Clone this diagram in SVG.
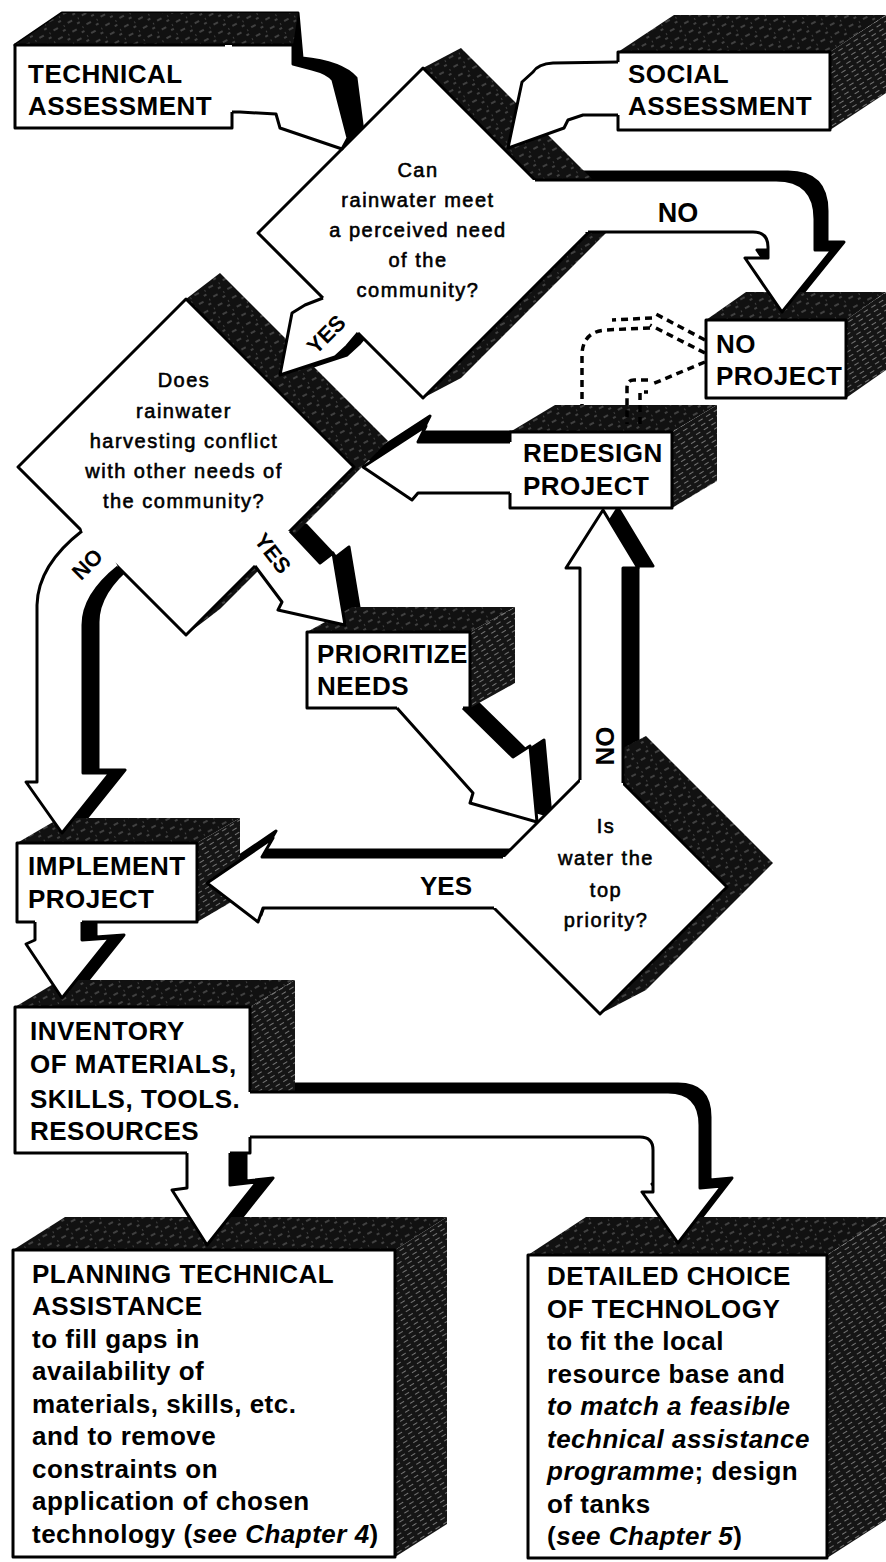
<svg xmlns="http://www.w3.org/2000/svg" xmlns:xlink="http://www.w3.org/1999/xlink" width="886" height="1562" viewBox="0 0 886 1562">
<style>
.face{fill:#fff;stroke:#000;stroke-width:3;stroke-linejoin:round}
.top{fill:url(#speck)}
.side{fill:url(#hatch)}
.dep{fill:#000;stroke:#000;stroke-width:3;stroke-linejoin:round}
.wf{fill:#fff;stroke:none}
.ln{fill:none;stroke:#000;stroke-width:3;stroke-linejoin:round}
.dash{fill:none;stroke:#000;stroke-width:3.5;stroke-dasharray:7 5}
.t{font-family:"Liberation Sans",Arial,sans-serif;font-size:26px;font-weight:bold;letter-spacing:0.5px;fill:#000}
.q{font-family:"Liberation Sans",Arial,sans-serif;font-size:20px;letter-spacing:1.5px;text-anchor:middle;fill:#000;stroke:#000;stroke-width:0.6}
.l{font-family:"Liberation Sans",Arial,sans-serif;font-weight:bold;text-anchor:middle;fill:#000}
.i{font-style:italic}
</style>
<defs>
<pattern id="speck" width="16" height="10" patternUnits="userSpaceOnUse" patternTransform="rotate(-28)">
<rect width="16" height="10" fill="#111"/>
<path d="M1,2h5M9,7h3M12,3h1" stroke="#fff" stroke-width="0.8" stroke-opacity="0.5"/>
</pattern>
<pattern id="hatch" width="9" height="5" patternUnits="userSpaceOnUse" patternTransform="rotate(-32)">
<rect width="9" height="5" fill="#151515"/>
<path d="M0,2.5h5" stroke="#fff" stroke-width="0.7" stroke-opacity="0.6"/>
</pattern>
<path id="a1" d="M225,45 L293,45 L293,64 L312,69 Q328,73 333,80 L348,138 L342,149 L280,128 L276,114 L240,112 L225,112 Z"/>
<path id="a2" d="M625,62 L553,63 Q538,64 533,72 L522,82 L508,148 L564,128 L568,120 L583,115 L625,115 Z"/>
<path id="a3" d="M520,180 L776,180 Q815,180 815,219 L815,250 L832,250 L782,312 L745,258 L768,258 L768,247 Q768,232 753,232 L560,232 Z"/>
<path id="a4" d="M330,290 L323,298 L305,305 L292,313 L280,375 L335,357 L347,346 L358,333 L365,325 Z"/>
<path id="a5" d="M250,560 L255,566 L282,602 L278,610 L345,625 L333,553 L320,563 L290,531 L280,530 Z"/>
<path id="a6" d="M80,520 L82,531 Q38,565 37,605 L37,782 L26,782 L62,833 L110,773 L83,773 L83,625 Q83,595 118,567 L110,550 Z"/>
<path id="a7" d="M397,700 L463,700 L463,708 L513,757 L530,746 L537,822 L470,803 L473,793 L397,708 Z"/>
<path id="a8" d="M580,800 L580,568 L566,568 L603,510 L638,568 L623,568 L623,800 Z"/>
<path id="a9" d="M520,857 L262,857 L273,838 L207,883 L258,922 L263,908 L520,908 Z"/>
<path id="a10" d="M35,915 L35,940 L26,944 L62,998 L110,938 L82,940 L82,915 Z"/>
<path id="a11" d="M187,1145 L187,1188 L172,1190 L207,1245 L257,1182 L230,1185 L230,1145 Z"/>
<path id="a12" d="M245,1092 L668,1092 Q700,1092 700,1125 L700,1188 L722,1186 L678,1243 L642,1192 L653,1192 L653,1150 Q653,1137 640,1137 L245,1137 Z"/>
<path id="a13" d="M517,442 L418,442 L426,426 L363,467 L412,500 L418,493 L517,493 Z"/>
</defs>
<rect width="886" height="1562" fill="#fff"/>

<g id="connector-depth">
<path class="dep" d="M15,45 L62,13 L298,13 L302,58 Q342,62 356,78 L364,140 L346,154 L342,149 L293,64 L293,45 Z"/>
<use xlink:href="#a3" class="dep" transform="translate(12,-8)"/>
<use xlink:href="#a4" class="dep" transform="translate(12,-2)"/>
<use xlink:href="#a5" class="dep" transform="translate(16,-6)"/>
<use xlink:href="#a6" class="dep" transform="translate(15,-3)"/>
<use xlink:href="#a7" class="dep" transform="translate(14,-6)"/>
<use xlink:href="#a8" class="dep" transform="translate(15,-2)"/>
<use xlink:href="#a9" class="dep" transform="translate(3,-7)"/>
<use xlink:href="#a10" class="dep" transform="translate(14,-3)"/>
<use xlink:href="#a11" class="dep" transform="translate(16,-4)"/>
<use xlink:href="#a12" class="dep" transform="translate(10,-8)"/>
<use xlink:href="#a13" class="dep" transform="translate(4,-10)"/>
</g>

<g id="technical-assessment">
<polygon class="top" points="15,45 62,13 298,13 293,45"/>
<rect class="face" x="15" y="45" width="217" height="83"/>
<text class="t" x="28" y="83">TECHNICAL</text>
<text class="t" x="28" y="115">ASSESSMENT</text>
</g>

<g id="social-assessment">
<polygon class="top" points="618,52 674,15 886,15 830,52"/>
<polygon class="side" points="830,52 886,15 886,93 830,130"/>
<rect class="face" x="618" y="52" width="212" height="78"/>
<text class="t" x="628" y="83">SOCIAL</text>
<text class="t" x="628" y="115">ASSESSMENT</text>
</g>

<g id="q-perceived-need">
<polygon class="top" points="258,233 423,68 461,48 626,213 461,378 423,398"/>
<polygon class="face" points="258,233 423,68 588,233 423,398"/>
<text class="q" x="418" y="177">Can</text>
<text class="q" x="418" y="207">rainwater meet</text>
<text class="q" x="418" y="237">a perceived need</text>
<text class="q" x="418" y="267">of the</text>
<text class="q" x="418" y="297">community?</text>
</g>

<g id="q-conflict">
<polygon class="top" points="18,467 186,299 220,273 388,441 220,609 186,635"/>
<polygon class="face" points="18,467 186,299 354,467 186,635"/>
<text class="q" x="184" y="387">Does</text>
<text class="q" x="184" y="418">rainwater</text>
<text class="q" x="184" y="448">harvesting conflict</text>
<text class="q" x="184" y="478">with other needs of</text>
<text class="q" x="184" y="508">the community?</text>
</g>

<g id="no-project">
<polygon class="top" points="706,320 746,292 886,292 846,320"/>
<polygon class="side" points="846,320 886,292 886,370 846,398"/>
<rect class="face" x="706" y="320" width="140" height="78"/>
<text class="t" x="716" y="353">NO</text>
<text class="t" x="716" y="385">PROJECT</text>
</g>

<g id="redesign-project">
<polygon class="top" points="510,432 555,405 717,405 672,432"/>
<polygon class="side" points="672,432 717,405 717,481 672,508"/>
<rect class="face" x="510" y="432" width="162" height="76"/>
<text class="t" x="523" y="462">REDESIGN</text>
<text class="t" x="523" y="495">PROJECT</text>
</g>

<g id="prioritize-needs">
<polygon class="top" points="307,632 352,607 515,607 470,632"/>
<polygon class="side" points="470,632 515,607 515,683 470,708"/>
<rect class="face" x="307" y="632" width="163" height="76"/>
<text class="t" x="317" y="663">PRIORITIZE</text>
<text class="t" x="317" y="695">NEEDS</text>
</g>

<g id="q-top-priority">
<polygon class="top" points="473,887 600,760 646,736 773,863 646,990 600,1014"/>
<polygon class="face" points="473,887 600,760 727,887 600,1014"/>
<text class="q" x="606" y="833">Is</text>
<text class="q" x="606" y="865">water the</text>
<text class="q" x="606" y="897">top</text>
<text class="q" x="606" y="927">priority?</text>
</g>

<g id="implement-project">
<polygon class="top" points="17,843 60,818 240,818 197,843"/>
<polygon class="side" points="197,843 240,818 240,897 197,922"/>
<rect class="face" x="17" y="843" width="180" height="79"/>
<text class="t" x="28" y="875">IMPLEMENT</text>
<text class="t" x="28" y="908">PROJECT</text>
</g>

<g id="inventory">
<polygon class="top" points="15,1007 60,980 295,980 250,1007"/>
<polygon class="side" points="250,1007 295,980 295,1092 250,1092"/>
<rect class="face" x="15" y="1007" width="235" height="146"/>
<text class="t" x="30" y="1040">INVENTORY</text>
<text class="t" x="30" y="1073">OF MATERIALS,</text>
<text class="t" x="30" y="1108">SKILLS, TOOLS.</text>
<text class="t" x="30" y="1140">RESOURCES</text>
</g>

<g id="planning-technical-assistance">
<polygon class="top" points="13,1250 65,1217 447,1217 395,1250"/>
<polygon class="side" points="395,1250 447,1217 447,1524 395,1557"/>
<rect class="face" x="13" y="1250" width="382" height="307"/>
<text class="t" x="32" y="1283">PLANNING TECHNICAL</text>
<text class="t" x="32" y="1315">ASSISTANCE</text>
<text class="t" x="32" y="1348">to fill gaps in</text>
<text class="t" x="32" y="1380">availability of</text>
<text class="t" x="32" y="1413">materials, skills, etc.</text>
<text class="t" x="32" y="1445">and to remove</text>
<text class="t" x="32" y="1478">constraints on</text>
<text class="t" x="32" y="1510">application of chosen</text>
<text class="t" x="32" y="1543">technology (<tspan class="i">see Chapter 4</tspan>)</text>
</g>

<g id="detailed-choice">
<polygon class="top" points="528,1255 586,1217 886,1217 827,1255"/>
<polygon class="side" points="827,1255 886,1217 886,1520 827,1558"/>
<rect class="face" x="528" y="1255" width="299" height="303"/>
<text class="t" x="547" y="1285">DETAILED CHOICE</text>
<text class="t" x="547" y="1318">OF TECHNOLOGY</text>
<text class="t" x="547" y="1350">to fit the local</text>
<text class="t" x="547" y="1383">resource base and</text>
<text class="t i" x="547" y="1415">to match a feasible</text>
<text class="t i" x="547" y="1448">technical assistance</text>
<text class="t" x="547" y="1480"><tspan class="i">programme</tspan>; design</text>
<text class="t" x="547" y="1513">of tanks</text>
<text class="t" x="547" y="1545">(<tspan class="i">see Chapter 5</tspan>)</text>
</g>

<g id="connectors">
<use xlink:href="#a1" class="wf"/>
<path class="ln" d="M232,45 L293,45 L293,64 L312,69 Q328,73 333,80 L348,138 L342,149 L280,128 L276,114 L240,112 L232,112"/>
<use xlink:href="#a2" class="wf"/>
<path class="ln" d="M618,62 L553,63 Q538,64 533,72 L522,82 L508,148 L564,128 L568,120 L583,115 L618,115"/>
<use xlink:href="#a3" class="wf"/>
<path class="ln" d="M535,180 L776,180 Q815,180 815,219 L815,250 L832,250 L782,312 L745,258 L768,258 L768,247 Q768,232 753,232 L588,232"/>
<text class="l" x="678" y="222" font-size="27">NO</text>
<use xlink:href="#a4" class="wf"/>
<path class="ln" d="M323,298 L305,305 L292,313 L280,375 L335,357 L347,346 L358,333"/>
<text class="l" font-size="22" transform="translate(326,334) rotate(-45)" y="8">YES</text>
<use xlink:href="#a5" class="wf"/>
<path class="ln" d="M255,566 L282,602 L278,610 L345,625 L333,553 L320,563 L290,531"/>
<text class="l" font-size="22" transform="translate(273,553) rotate(52)" y="8">YES</text>
<use xlink:href="#a6" class="wf"/>
<path class="ln" d="M82,531 Q38,565 37,605 L37,782 L26,782 L62,833 L110,773 L83,773 L83,625 Q83,595 118,567"/>
<text class="l" font-size="22" transform="translate(87,564) rotate(-45)" y="8">NO</text>
<use xlink:href="#a7" class="wf"/>
<path class="ln" d="M397,708 L473,793 L470,803 L537,822 L530,746 L513,757 L463,708"/>
<use xlink:href="#a8" class="wf"/>
<path class="ln" d="M580,780 L580,568 L566,568 L603,510 L638,568 L623,568 L623,783"/>
<text class="l" font-size="26" transform="translate(605,746) rotate(-90)" y="9">NO</text>
<use xlink:href="#a9" class="wf"/>
<path class="ln" d="M503,857 L262,857 L273,838 L207,883 L258,922 L263,908 L494,908"/>
<text class="l" x="446" y="895" font-size="26">YES</text>
<use xlink:href="#a10" class="wf"/>
<path class="ln" d="M35,922 L35,940 L26,944 L62,998 L110,938 L82,940 L82,922"/>
<use xlink:href="#a11" class="wf"/>
<path class="ln" d="M187,1153 L187,1188 L172,1190 L207,1245 L257,1182 L230,1185 L230,1153"/>
<use xlink:href="#a12" class="wf"/>
<path class="ln" d="M250,1092 L668,1092 Q700,1092 700,1125 L700,1188 L722,1186 L678,1243 L642,1192 L653,1192 L653,1150 Q653,1137 640,1137 L250,1137"/>
<use xlink:href="#a13" class="wf"/>
<path class="ln" d="M510,442 L418,442 L426,426 L363,467 L412,500 L418,493 L510,493"/>
<path class="dash" d="M705,340 L652,312"/>
<path class="dash" d="M705,353 L650,325"/>
<path class="dash" d="M652,318 L612,320"/>
<path class="dash" d="M650,328 L605,330 Q583,332 582,354 L582,405"/>
<path class="dash" d="M705,362 L650,385"/>
<path class="dash" d="M648,380 L634,380 Q627,380 627,388 L627,424 M640,424 L640,392 L648,392"/>
</g>
</svg>
